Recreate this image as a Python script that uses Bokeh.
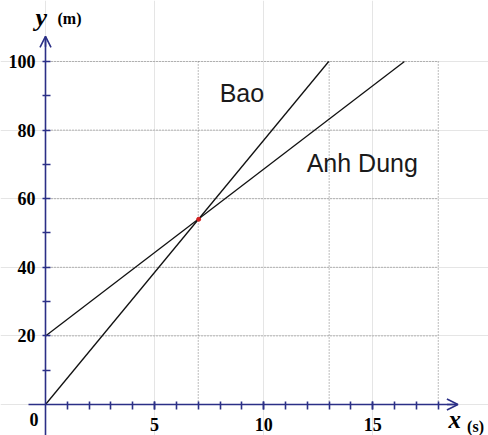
from bokeh.plotting import figure
from bokeh.models import LinearAxis, FixedTicker, Arrow, OpenHead, Range1d, ColumnDataSource
from bokeh.core.properties import value
from bokeh.embed import file_html
from bokeh.resources import INLINE

# ---- data ----
bao_t = [0, 12.98]
bao_x = [0, 100]
anh_t = [0, 16.45]
anh_x = [20, 100]
meet_t = [7.02]
meet_x = [54.0]

x_major = [5, 10, 15]
x_minor = list(range(1, 19))
y_major = [20, 40, 60, 80, 100]
y_minor = [10, 30, 50, 70, 90]
grid_t = [7, 13, 18]
grid_x = [20, 40, 60, 80, 100]

labels = ["Bao", "Anh Dung"]
label_t = [7.98, 11.97]
label_x = [90.9, 70.5]

# axis extents (data units)
x_axis_span = (-0.77, 18.9)
y_axis_span = (-9.04, 107.3)
t_max = 18
x_max = 100

NAVY = "#2B2F86"

p = figure(width=488, height=435,
           x_range=Range1d(-2.0623, 20.302), y_range=Range1d(-9.038, 117.784),
           x_axis_location=None, y_axis_location=None,
           toolbar_location=None, output_backend="svg",
           min_border=0, outline_line_color=None,
           background_fill_color="white", border_fill_color="white")

# grid lines (dotted)
p.segment(x0=grid_t, y0=[0] * len(grid_t), x1=grid_t, y1=[x_max] * len(grid_t),
          line_color="#7a7a7a", line_width=1, line_dash="1 2")
p.segment(x0=[0] * len(grid_x), y0=grid_x, x1=[t_max] * len(grid_x), y1=grid_x,
          line_color="#7a7a7a", line_width=1, line_dash="1 2")

# axes pinned at origin
xaxis = LinearAxis(fixed_location=0,
                   ticker=FixedTicker(ticks=x_major, minor_ticks=x_minor),
                   bounds=x_axis_span)
yaxis = LinearAxis(fixed_location=0,
                   ticker=FixedTicker(ticks=y_major, minor_ticks=y_minor),
                   bounds=y_axis_span)
for ax in (xaxis, yaxis):
    ax.axis_line_color = NAVY
    ax.axis_line_width = 1.6
    ax.major_tick_line_color = NAVY
    ax.minor_tick_line_color = NAVY
    ax.major_tick_line_width = 1.6
    ax.minor_tick_line_width = 1.6
    ax.major_label_text_font = "Liberation Serif"
    ax.major_label_text_font_style = "bold"
    ax.major_label_text_font_size = "18px"
    ax.major_label_text_color = "black"
xaxis.major_tick_in = 3
xaxis.major_tick_out = 5
xaxis.minor_tick_in = 3
xaxis.minor_tick_out = 5
xaxis.major_label_standoff = 9
yaxis.major_tick_in = 5
yaxis.major_tick_out = 3
yaxis.minor_tick_in = 5
yaxis.minor_tick_out = 3
yaxis.major_label_standoff = 7
p.add_layout(xaxis, "below")
p.add_layout(yaxis, "left")

# arrow heads
p.add_layout(Arrow(end=OpenHead(size=11, line_color=NAVY, line_width=1.6),
                   x_start=x_axis_span[1] - 0.5, y_start=0, x_end=x_axis_span[1], y_end=0,
                   line_color=NAVY, line_width=1.6))
p.add_layout(Arrow(end=OpenHead(size=11, line_color=NAVY, line_width=1.6),
                   x_start=0, y_start=y_axis_span[1] - 3, x_end=0, y_end=y_axis_span[1],
                   line_color=NAVY, line_width=1.6))

# motion lines
p.line(bao_t, bao_x, line_color="#111111", line_width=1.3)
p.line(anh_t, anh_x, line_color="#111111", line_width=1.3)
p.scatter(meet_t, meet_x, size=4, fill_color="#d02020", line_color="#d02020")

# series labels
src = ColumnDataSource(dict(t=label_t, x=label_x, txt=labels))
p.text(x="t", y="x", text="txt", source=src, text_font=value("Liberation Sans"),
       text_font_size="25px", text_color="#1a1a1a", text_baseline="alphabetic",
       text_align="left")

# axis titles and origin label
p.text(x=[-0.46], y=[112.8], text=["y"], text_font=value("Liberation Serif"),
       text_font_style="bold italic", text_font_size="26px", text_color="black",
       text_baseline="alphabetic", text_align="left")
p.text(x=[0.55], y=[112.6], text=["(m)"], text_font=value("Liberation Serif"),
       text_font_style="bold", text_font_size="16px", text_color="black",
       text_baseline="alphabetic", text_align="left")
p.text(x=[18.47], y=[-4.4], text=["x"], text_font=value("Liberation Serif"),
       text_font_style="bold italic", text_font_size="25px", text_color="black",
       text_baseline="alphabetic", text_align="left")
p.text(x=[19.32], y=[-6.3], text=["(s)"], text_font=value("Liberation Serif"),
       text_font_style="bold", text_font_size="16px", text_color="black",
       text_baseline="alphabetic", text_align="left")
p.text(x=[-0.53], y=[-4.37], text=["0"], text_font=value("Liberation Serif"),
       text_font_style="bold", text_font_size="18px", text_color="black",
       text_baseline="alphabetic", text_align="center")

open("out.html", "w").write(file_html(p, INLINE))
